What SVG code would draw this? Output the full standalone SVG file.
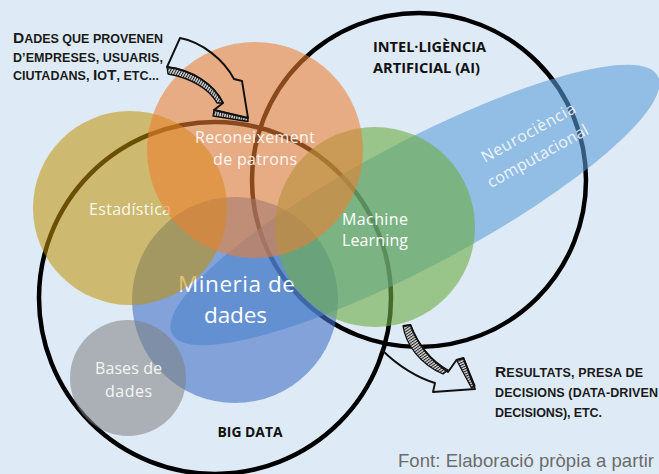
<svg xmlns="http://www.w3.org/2000/svg" width="659" height="474" viewBox="0 0 659 474">
<defs>
<style>
.ring{fill:none;stroke:#000;stroke-width:4.5}
.lbl{font-family:"Open Sans","DejaVu Sans",sans-serif;fill:#fff;text-anchor:middle;font-size:16px}
.hdr{font-family:"Open Sans","DejaVu Sans",sans-serif;font-weight:700;fill:#111;font-size:14.5px}
.sc{font-family:"Liberation Sans",Arial,sans-serif;font-weight:700;fill:#1a1a1a}
.big{font-size:15.5px}
.sm{font-size:12.5px}
.arw{fill:none;stroke:#111;stroke-width:1.9;stroke-linejoin:round}
.band{stroke:#111;stroke-width:1.3;stroke-linejoin:round}
</style>
<pattern id="h1" width="2.4" height="12" patternUnits="userSpaceOnUse" patternTransform="rotate(30)"><rect width="2.4" height="12" fill="#d4d4d4"/><rect width="1" height="12" fill="#222"/></pattern>
<pattern id="h2" width="2.4" height="12" patternUnits="userSpaceOnUse" patternTransform="rotate(12)"><rect width="2.4" height="12" fill="#d4d4d4"/><rect width="1" height="12" fill="#222"/></pattern>
<pattern id="h3" width="2.4" height="12" patternUnits="userSpaceOnUse" patternTransform="rotate(55)"><rect width="2.4" height="12" fill="#d4d4d4"/><rect width="1" height="12" fill="#222"/></pattern>
<pattern id="h4" width="2.4" height="12" patternUnits="userSpaceOnUse" patternTransform="rotate(66)"><rect width="2.4" height="12" fill="#d4d4d4"/><rect width="1" height="12" fill="#222"/></pattern>
</defs>
<rect width="659" height="474" fill="#DEEBF7"/>

<g id="big-data">
<circle class="ring" cx="215" cy="298" r="176"/>
<text class="hdr" x="250" y="437" text-anchor="middle" textLength="65" lengthAdjust="spacingAndGlyphs">BIG DATA</text>
</g>
<g id="intelligencia-artificial">
<circle class="ring" cx="419" cy="180" r="167"/>
<text class="hdr" x="373" y="52" textLength="113" lengthAdjust="spacingAndGlyphs">INTEL·LIGÈNCIA</text>
<text class="hdr" x="373" y="72.5" textLength="107" lengthAdjust="spacingAndGlyphs">ARTIFICIAL (AI)</text>
</g>

<g id="neurociencia">
<ellipse cx="415" cy="205" rx="275" ry="62" transform="rotate(-28 415 205)" fill="#5B9BD5" fill-opacity="0.58"/>
<g transform="translate(531 137.5) rotate(-29)" opacity="0.85">
<text class="lbl" x="0" y="0" textLength="105">Neurociència</text>
<text class="lbl" x="-3" y="25" textLength="113">computacional</text>
</g>
</g>

<g id="mineria-de-dades">
<circle cx="235" cy="300" r="103" fill="#4472C4" fill-opacity="0.6"/>
<text class="lbl" x="236.5" y="292" style="font-size:22.5px" textLength="117">Mineria de</text>
<text class="lbl" x="235.5" y="323" style="font-size:22.5px" textLength="63">dades</text>
</g>

<g id="machine-learning">
<circle cx="375" cy="227" r="100" fill="#70AD47" fill-opacity="0.62"/>
<text class="lbl" x="375" y="225" textLength="66">Machine</text>
<text class="lbl" x="375" y="246" textLength="66">Learning</text>
</g>

<g id="estadistica">
<circle cx="130" cy="208" r="97" fill="#BF9000" fill-opacity="0.55"/>
<text class="lbl" x="130" y="215" textLength="82" fill-opacity="0.92">Estadística</text>
</g>

<g id="reconeixement-de-patrons">
<circle cx="255" cy="150" r="108" fill="#ED7D31" fill-opacity="0.58"/>
<text class="lbl" x="255" y="143" textLength="120" fill-opacity="0.92">Reconeixement</text>
<text class="lbl" x="255" y="165" textLength="84" fill-opacity="0.92">de patrons</text>
</g>

<g id="bases-de-dades">
<circle cx="128" cy="378" r="58" fill="#7F7F7F" fill-opacity="0.55"/>
<text class="lbl" x="128.5" y="374" textLength="67" fill-opacity="0.9">Bases de</text>
<text class="lbl" x="128.5" y="397" textLength="47" fill-opacity="0.9">dades</text>
</g>

<g id="dades-origen">
<text class="sc" x="13" y="43" textLength="150"><tspan class="big">D</tspan><tspan class="sm">ADES QUE PROVENEN</tspan></text>
<text class="sc sm" x="13" y="61.5" textLength="150">D’EMPRESES, USUARIS,</text>
<text class="sc" x="13" y="80" textLength="146"><tspan class="sm">CIUTADANS, </tspan><tspan class="big">I</tspan><tspan class="sm">O</tspan><tspan class="big">T</tspan><tspan class="sm">, ETC...</tspan></text>
</g>

<g id="resultats">
<text class="sc" x="495" y="377" textLength="148"><tspan class="big">R</tspan><tspan class="sm">ESULTATS, PRESA DE</tspan></text>
<text class="sc sm" x="495" y="397" textLength="163">DECISIONS (DATA-DRIVEN</text>
<text class="sc sm" x="495" y="417" textLength="107">DECISIONS), ETC.</text>
</g>

<g id="connectors">
<path class="band" fill="url(#h1)" d="M167,67 C192,70 214,84 223,103 L217,103 C210,90 192,78 168,74 Z"/>
<path class="band" fill="url(#h2)" d="M214,110 L248,118 L248,121.5 L213,116 Z"/>
<path class="arw" d="M167,67 L180,38 C202,42 224,60 234,79 L242,81 L248,118 L214,110 L223,103 C214,84 192,70 167,67 Z"/>
<path class="band" fill="url(#h3)" d="M403,326 C406,345 420,364 443,374 L448,370 C430,360 418,345 410.5,325 Z"/>
<path class="band" fill="url(#h4)" d="M456.5,360 L463.5,358 L475,386 L471.5,388 Z"/>
<path class="arw" d="M382,350 C398,366 418,378 435,383 L433,392 L475,389 L463.5,358 L456.5,360 L448,372 C430,360 418,345 410.5,325 L403,326"/>
</g>

<text x="398" y="467" font-family="'Liberation Sans',Arial,sans-serif" font-size="18.5" fill="#6b6b6b" textLength="256">Font: Elaboració pròpia a partir</text>
</svg>
